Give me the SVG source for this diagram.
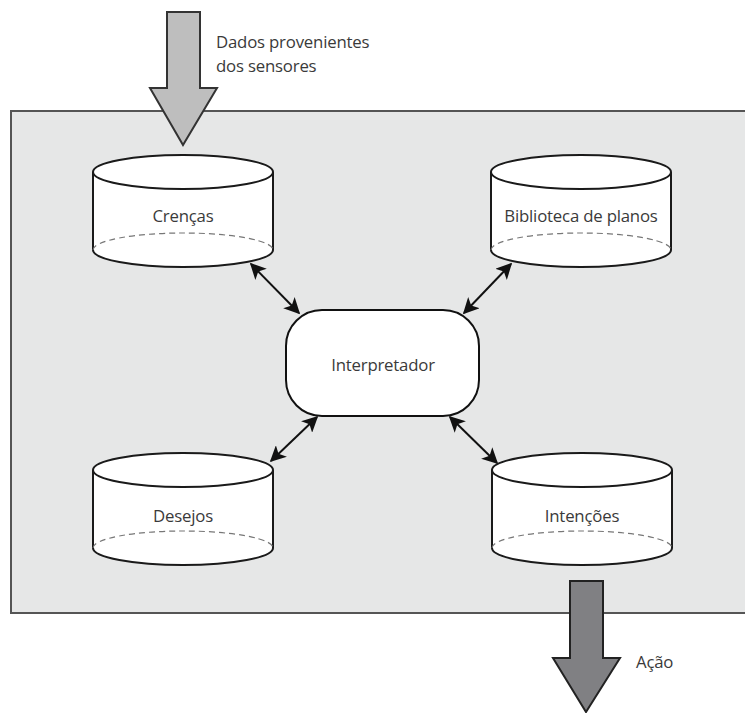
<svg xmlns="http://www.w3.org/2000/svg" width="745" height="713" viewBox="0 0 745 713">
  <style>
    .lbl { font-family: "Open Sans", "Liberation Sans", sans-serif; font-size: 16.8px; fill: #3a3a3a; letter-spacing: -0.2px; }
    .mid { text-anchor: middle; }
    .cyl { fill: #ffffff; stroke: #1a1a1a; stroke-width: 2; }
    .dash { fill: none; stroke: #777; stroke-width: 1.2; stroke-dasharray: 6 4; }
    .link { stroke: #111; stroke-width: 2; fill: none; marker-start: url(#head); marker-end: url(#head); }
  </style>
  <defs>
    <marker id="head" viewBox="0 0 10 10" refX="9" refY="5" markerWidth="8" markerHeight="8" orient="auto-start-reverse" markerUnits="strokeWidth">
      <path d="M0,0 L10,5 L0,10 L2.5,5 Z" fill="#111"/>
    </marker>
  </defs>

  <!-- agent boundary -->
  <g id="agent">
    <rect x="11" y="111" width="740" height="502" fill="#e6e7e7" stroke="#555" stroke-width="2"/>
  </g>

  <!-- sensor input -->
  <g id="input">
    <path d="M167,12 L200,12 L200,88 L217,88 L183,145 L150,88 L167,88 Z" fill="#bebebe" stroke="#333" stroke-width="2" stroke-linejoin="miter"/>
    <text class="lbl" x="216" y="48">Dados provenientes</text>
    <text class="lbl" x="216" y="72">dos sensores</text>
  </g>

  <!-- action output -->
  <g id="output">
    <path d="M570,581 L603,581 L603,658 L620,658 L586,712 L553,658 L570,658 Z" fill="#808083" stroke="#222" stroke-width="2"/>
    <text class="lbl" x="636" y="668">Ação</text>
  </g>

  <g id="crencas">
    <path class="cyl" d="M93,172 L93,250 A90,17 0 0 0 273,250 L273,172"/>
    <ellipse class="cyl" cx="183" cy="172" rx="90" ry="17"/>
    <path class="dash" d="M93,250 A90,17 0 0 1 273,250"/>
    <text class="lbl mid" x="183" y="222">Crenças</text>
  </g>

  <g id="biblioteca">
    <path class="cyl" d="M491,172 L491,250 A90,17 0 0 0 671,250 L671,172"/>
    <ellipse class="cyl" cx="581" cy="172" rx="90" ry="17"/>
    <path class="dash" d="M491,250 A90,17 0 0 1 671,250"/>
    <text class="lbl mid" x="581" y="222">Biblioteca de planos</text>
  </g>

  <g id="desejos">
    <path class="cyl" d="M93,470 L93,548 A90,17 0 0 0 273,548 L273,470"/>
    <ellipse class="cyl" cx="183" cy="470" rx="90" ry="17"/>
    <path class="dash" d="M93,548 A90,17 0 0 1 273,548"/>
    <text class="lbl mid" x="183" y="522">Desejos</text>
  </g>

  <g id="intencoes">
    <path class="cyl" d="M492,470 L492,548 A90,17 0 0 0 672,548 L672,470"/>
    <ellipse class="cyl" cx="582" cy="470" rx="90" ry="17"/>
    <path class="dash" d="M492,548 A90,17 0 0 1 672,548"/>
    <text class="lbl mid" x="582" y="522">Intenções</text>
  </g>

  <g id="interpretador">
    <rect x="286" y="310" width="193" height="106" rx="36" ry="36" fill="#fff" stroke="#111" stroke-width="2"/>
    <text class="lbl mid" x="383" y="371">Interpretador</text>
  </g>

  <!-- two-way links between the interpreter and the stores -->
  <g id="connectors">
    <line class="link" x1="251" y1="264" x2="299" y2="313"/>
    <line class="link" x1="511" y1="264" x2="464" y2="313"/>
    <line class="link" x1="271" y1="461" x2="317" y2="417"/>
    <line class="link" x1="450" y1="417" x2="497" y2="463"/>
  </g>
</svg>
